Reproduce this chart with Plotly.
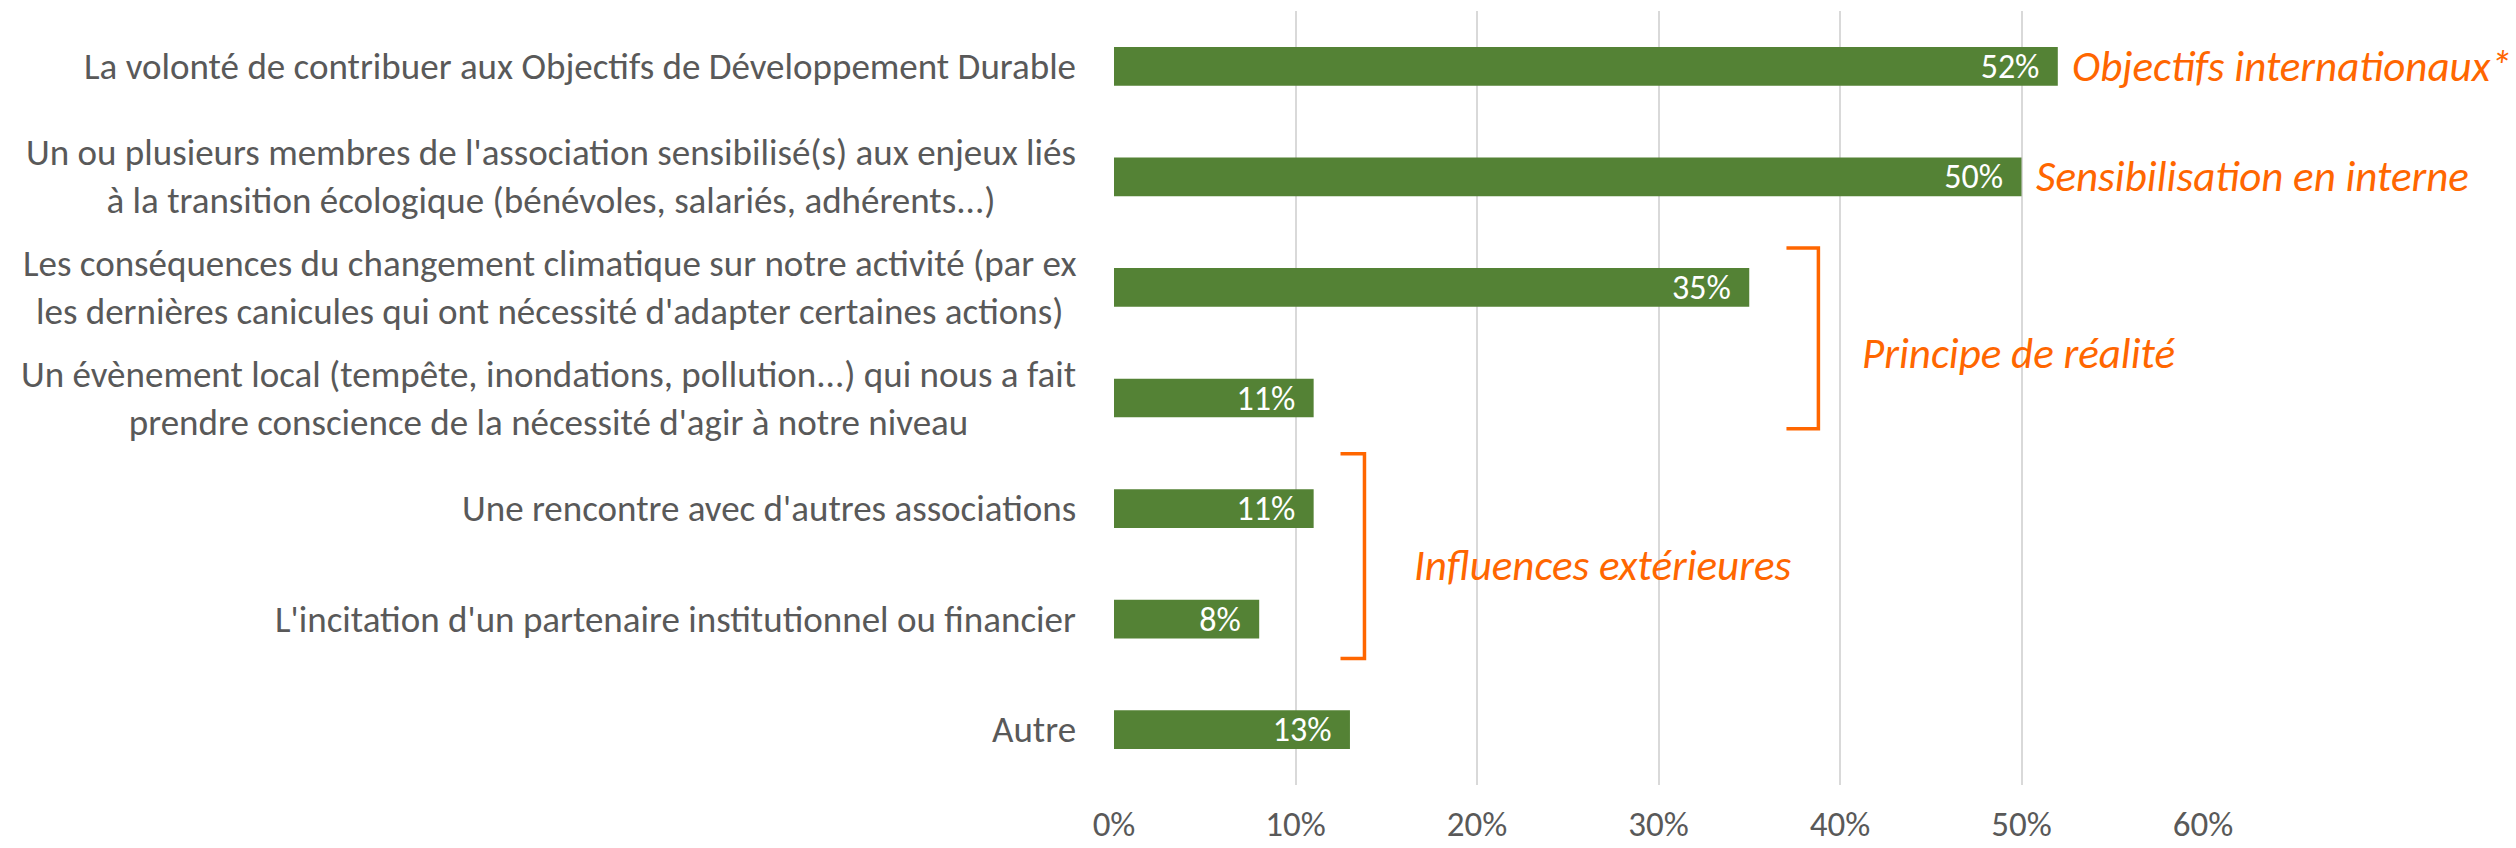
import plotly.graph_objects as go

categories = [
    "La volonté de contribuer aux Objectifs de Développement Durable",
    "Un ou plusieurs membres de l'association sensibilisé(s) aux enjeux liés<br>à la transition écologique (bénévoles, salariés, adhérents...)",
    "Les conséquences du changement climatique sur notre activité (par ex<br>les dernières canicules qui ont nécessité d'adapter certaines actions)",
    "Un évènement local (tempête, inondations, pollution...) qui nous a fait<br>prendre conscience de la nécessité d'agir à notre niveau",
    "Une rencontre avec d'autres associations",
    "L'incitation d'un partenaire institutionnel ou financier",
    "Autre",
]
values = [0.52, 0.50, 0.35, 0.11, 0.11, 0.08, 0.13]
tick_vals = [0, 0.1, 0.2, 0.3, 0.4, 0.5, 0.6]
tick_text = ["0%", "10%", "20%", "30%", "40%", "50%", "60%"]

# Orange side comments placed right after a bar
side_labels = [(0, "Objectifs internationaux*"), (1, "Sensibilisation en interne")]
# Brackets grouping categories: (x_left, x_right, y_top_index, y_bottom_index, label, label_x, label_y_index)
brackets = [
    (0.3705, 0.3881, 1.644, 3.279, "Principe de réalité", 0.411, 2.60),
    (0.1248, 0.1380, 3.505, 5.357, "Influences extérieures", 0.164, 4.517),
]

FONT = "Carlito, Lato, 'Liberation Sans', sans-serif"
GREEN = "#548235"
ORANGE = "#FF6600"
GREY = "#595959"

ids = list(range(len(categories)))
fig = go.Figure()
fig.add_trace(go.Bar(
    x=values,
    y=ids,
    orientation="h",
    marker=dict(color=GREEN, line=dict(width=0)),
    text=[f"{round(v*100)}%\u00a0\u00a0" for v in values],
    textposition="inside",
    insidetextanchor="end",
    constraintext="none",
    textfont=dict(family=FONT, size=34, color="white"),
    width=0.35,
    hoverinfo="skip",
))

annotations = []
for i, c in enumerate(categories):
    annotations.append(dict(
        x=0, xref="paper", y=i, yref="y", text=c, showarrow=False,
        xanchor="right", yanchor="middle", align="center", xshift=-36,
        font=dict(family=FONT, size=37, color=GREY),
    ))
for i, t in side_labels:
    annotations.append(dict(
        x=values[i], xref="x", y=i, yref="y", text=t, showarrow=False,
        xanchor="left", yanchor="middle", xshift=12,
        font=dict(family=FONT, size=43, color=ORANGE, style="italic"),
    ))

shapes = []
for (xl, xr, yt, yb, lab, lx, ly) in brackets:
    shapes.append(dict(
        type="path", xref="x", yref="y",
        path=f"M {xl},{yt} L {xr},{yt} L {xr},{yb} L {xl},{yb}",
        line=dict(color=ORANGE, width=3.5),
    ))
    annotations.append(dict(
        x=lx, xref="x", y=ly, yref="y", text=lab, showarrow=False,
        xanchor="left", yanchor="middle",
        font=dict(family=FONT, size=43, color=ORANGE, style="italic"),
    ))

fig.update_layout(
    width=2516, height=848,
    margin=dict(l=1114, r=313, t=11, b=63, autoexpand=False),
    paper_bgcolor="white", plot_bgcolor="white",
    showlegend=False,
    annotations=annotations,
    shapes=shapes,
    xaxis=dict(
        range=[0, 0.6], tickvals=tick_vals, ticktext=tick_text,
        showgrid=True, gridcolor="#D9D9D9", gridwidth=1.5,
        zeroline=False, showline=False, ticks="",
        tickfont=dict(family=FONT, size=35, color=GREY),
        ticklabelstandoff=15, automargin=False,
    ),
    yaxis=dict(
        range=[len(categories) - 0.5, -0.5], automargin=False,
        showticklabels=False, showgrid=False, zeroline=False, ticks="",
    ),
)

# remove the default 8px page margin so the figure fills the window exactly
fig.write_html(
    "out.html",
    config={"displayModeBar": False},
    post_script="document.body.style.margin='0';document.body.style.overflow='hidden';",
)
